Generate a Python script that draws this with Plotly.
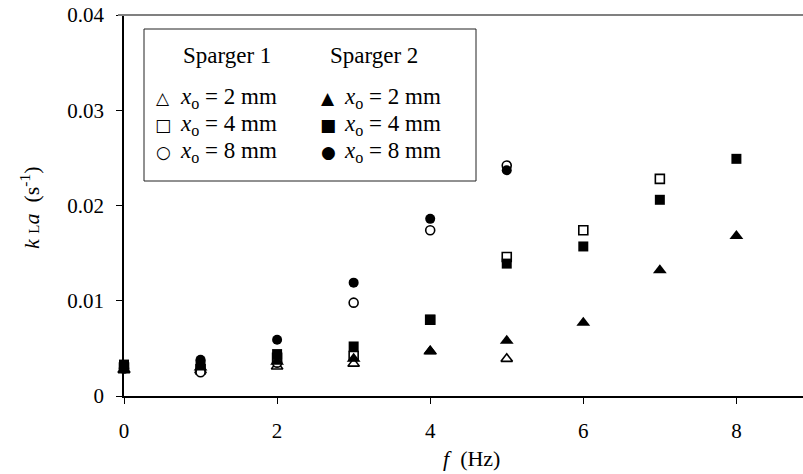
import plotly.graph_objects as go

# ---- data (frequency f in Hz, kLa in 1/s) ----
f_s1_2mm = [0, 1, 2, 3, 4, 5]
kla_s1_2mm = [0.0027, 0.0027, 0.0031, 0.0034, 0.0047, 0.0039]
f_s1_4mm = [0, 1, 2, 3, 4, 5, 6, 7]
kla_s1_4mm = [0.0030, 0.0028, 0.0040, 0.0042, 0.0080, 0.0146, 0.0174, 0.0228]
f_s1_8mm = [0, 1, 2, 3, 4, 5]
kla_s1_8mm = [0.0029, 0.0025, 0.0035, 0.0098, 0.0174, 0.0242]

f_s2_2mm = [0, 1, 2, 3, 4, 5, 6, 7, 8]
kla_s2_2mm = [0.0028, 0.0030, 0.0036, 0.0039, 0.0047, 0.0058, 0.0077, 0.0132, 0.0168]
f_s2_4mm = [0, 1, 2, 3, 4, 5, 6, 7, 8]
kla_s2_4mm = [0.0033, 0.0033, 0.0044, 0.0052, 0.0080, 0.0139, 0.0157, 0.0206, 0.0249]
f_s2_8mm = [0, 1, 2, 3, 4, 5]
kla_s2_8mm = [0.0031, 0.0038, 0.0059, 0.0119, 0.0186, 0.0237]

series_labels = ["<i>x</i><sub>o</sub> = 2 mm", "<i>x</i><sub>o</sub> = 4 mm", "<i>x</i><sub>o</sub> = 8 mm"]
group_titles = ["Sparger 1", "Sparger 2"]
open_glyphs = ["\u25B3", "\u25A1", "\u25CB"]
filled_glyphs = ["\u25B2", "\u25A0", "\u25CF"]
x_ticks = [0, 2, 4, 6, 8]
y_ticks = [0, 0.01, 0.02, 0.03, 0.04]
y_tick_text = ["0", "0.01", "0.02", "0.03", "0.04"]

FONT = "Liberation Serif"
TICKFONT = "Times New Roman, Liberation Serif, serif"
SYMFONT = "DejaVu Sans"

fig = go.Figure()

open_series = [(f_s1_2mm, kla_s1_2mm, "triangle-up", 10),
               (f_s1_4mm, kla_s1_4mm, "square", 9),
               (f_s1_8mm, kla_s1_8mm, "circle", 9)]
filled_series = [(f_s2_2mm, kla_s2_2mm, "triangle-up", 12),
                 (f_s2_4mm, kla_s2_4mm, "square", 10),
                 (f_s2_8mm, kla_s2_8mm, "circle", 10)]

for (xs, ys, sym, sz), lab in zip(open_series, series_labels):
    fig.add_trace(go.Scatter(
        x=xs, y=ys, mode="markers", name="Sparger 1, " + lab, showlegend=False,
        cliponaxis=False,
        marker=dict(symbol=sym, size=sz, color="white",
                    line=dict(color="black", width=1.6)),
    ))
for (xs, ys, sym, sz), lab in zip(filled_series, series_labels):
    fig.add_trace(go.Scatter(
        x=xs, y=ys, mode="markers", name="Sparger 2, " + lab, showlegend=False,
        cliponaxis=False,
        marker=dict(symbol=sym, size=sz, color="black",
                    line=dict(color="black", width=0)),
    ))

X0, X1 = 124, 803
Y0, Y1 = 15, 396
W, H = 803, 474
def px(x):
    return (x - X0) / (X1 - X0)
def py(y):
    return (Y1 - y) / (Y1 - Y0)

# legend frame
fig.add_shape(type="rect", xref="paper", yref="paper",
              x0=px(144), x1=px(476), y0=py(181), y1=py(29),
              line=dict(color="#222", width=1), fillcolor="white", layer="below")
# top border line (gray)
fig.add_shape(type="line", xref="paper", yref="paper",
              x0=px(118), x1=1, y0=1, y1=1,
              line=dict(color="#808080", width=2.2))

# legend content
for t, cx in zip(group_titles, [227, 374]):
    fig.add_annotation(text=t, xref="paper", yref="paper", x=px(cx), y=py(55),
                       showarrow=False, xanchor="center", yanchor="middle",
                       font=dict(family=FONT, size=23, color="black"))
row_y = [98, 125, 152]
for glyphs, sym_x, txt_x in [(open_glyphs, 163, 178), (filled_glyphs, 328, 342)]:
    for g, lab, ry in zip(glyphs, series_labels, row_y):
        fig.add_annotation(text=g, xref="paper", yref="paper", x=px(sym_x), y=py(ry),
                           showarrow=False, xanchor="center", yanchor="middle",
                           font=dict(family=SYMFONT, size=17, color="black"))
        fig.add_annotation(text=lab, xref="paper", yref="paper", x=px(txt_x), y=py(ry),
                           showarrow=False, xanchor="left", yanchor="middle",
                           font=dict(family=FONT, size=23, color="black"))

fig.add_annotation(text="<i>f</i>  (Hz)", xref="paper", yref="paper",
                   x=px(471), y=py(458), showarrow=False,
                   xanchor="center", yanchor="middle",
                   font=dict(family=FONT, size=22, color="black"))
fig.add_annotation(text="<i>k</i> <span style='font-size:15px'>L</span><i>a</i>  (s<sup>-1</sup>)",
                   xref="paper", yref="paper", x=px(30), y=py(208),
                   showarrow=False, textangle=-90,
                   xanchor="center", yanchor="middle",
                   font=dict(family=FONT, size=22, color="black"))

fig.update_xaxes(
    range=[0, 8.87], tickvals=x_ticks, ticktext=[str(v) for v in x_ticks],
    showgrid=False, zeroline=False, showline=True, linecolor="black", linewidth=1.5,
    ticks="outside", ticklen=6, tickcolor="black", tickwidth=1,
    tickfont=dict(family=TICKFONT, size=21, color="black"), ticklabelstandoff=9,
)
fig.update_yaxes(
    range=[0, 0.04], tickvals=y_ticks, ticktext=y_tick_text,
    showgrid=False, zeroline=False, showline=True, linecolor="black", linewidth=1.5,
    ticks="outside", ticklen=6, tickcolor="black", tickwidth=1,
    tickfont=dict(family=TICKFONT, size=21, color="black"), ticklabelstandoff=8,
)
fig.update_layout(
    width=W, height=H, showlegend=False,
    margin=dict(l=X0, r=W - X1, t=Y0, b=H - Y1, pad=0),
    plot_bgcolor="white", paper_bgcolor="white",
    font=dict(family=FONT, color="black"),
)

fig.write_html("out.html")
